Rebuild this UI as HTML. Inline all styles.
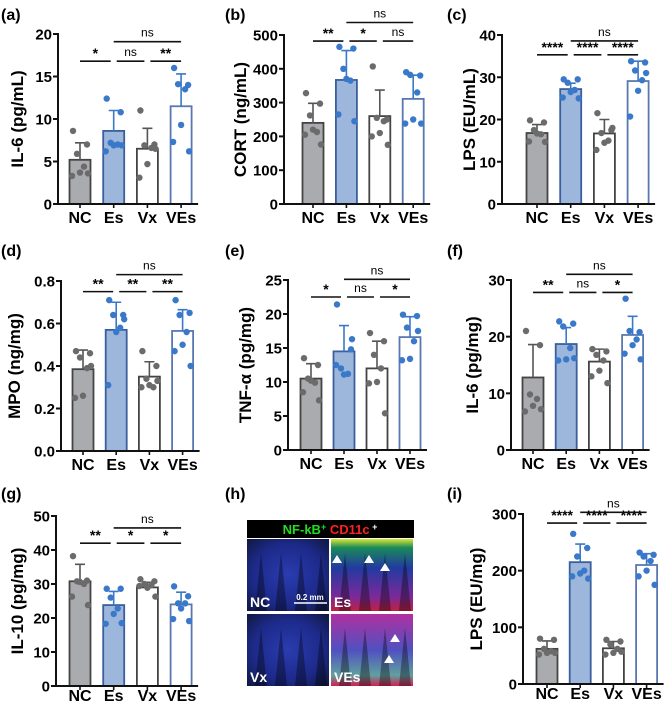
<!DOCTYPE html>
<html><head><meta charset="utf-8"><style>
body{margin:0;background:#fff;width:669px;height:701px;overflow:hidden}
svg{display:block;font-family:"Liberation Sans",Arial,sans-serif;font-weight:bold}
</style></head><body>
<svg id="fig" width="669" height="701" viewBox="0 0 669 701">
<defs>
<radialGradient id="gBlue" cx="50%" cy="50%" r="70%"><stop offset="0" stop-color="#2a3cb0"/><stop offset="0.6" stop-color="#1d2a8a"/><stop offset="1" stop-color="#101840"/></radialGradient>
<linearGradient id="gEs" x1="0" y1="0" x2="0" y2="1"><stop offset="0" stop-color="#d8e830"/><stop offset="0.12" stop-color="#1a8a5a"/><stop offset="0.4" stop-color="#223aa0"/><stop offset="0.8" stop-color="#7a2a9a"/><stop offset="1" stop-color="#c02040"/></linearGradient>
<linearGradient id="gVEs" x1="0" y1="0" x2="0" y2="1"><stop offset="0" stop-color="#b030a0"/><stop offset="0.5" stop-color="#5050c0"/><stop offset="0.85" stop-color="#60a0a0"/><stop offset="1" stop-color="#d02050"/></linearGradient>
</defs>
</svg>
<script>
// ---- data arrays ----
const groups = ["NC","Es","Vx","VEs"];
const aTicks=[0,5,10,15,20], aMeans=[5.2,8.6,6.5,11.5], aSD=[2.0,2.4,2.4,3.8];
const aPts=[[8.6,7.0,5.9,4.4,3.7,3.3,3.6],[12.4,10.8,7.2,7.0,6.9,6.2,6.9],[11.0,7.0,6.9,6.6,4.7,3.1,6.5],[16.0,14.0,14.1,13.5,9.3,7.3,6.2]];
const aSig=["*","ns","**","ns"];
const bTicks=[0,100,200,300,400,500], bMeans=[240,367,260,311], bSD=[58,87,77,70];
const bPts=[[328,297,262,213,220,205,176],[465,460,400,365,370,265,245],[407,250,255,245,210,200,175],[390,380,382,330,250,238,238]];
const bSig=["**","*","ns","ns"];
const cTicks=[0,10,20,30,40], cMeans=[16.8,27.2,16.7,29.1], cSD=[2.0,1.4,3.3,4.7];
const cPts=[[19.8,19.3,17.5,16.5,16.7,14.8,14.7],[29.5,29.5,28.7,27.0,26.5,25.2,25.0],[21.5,17.5,16.8,15.0,14.5,12.8,18.0],[33.8,33.5,31.6,29.3,26.8,20.7,31.0]];
const cSig=["****","****","****","ns"];
const dTicks=[0,0.2,0.4,0.6,0.8], dMeans=[0.385,0.57,0.35,0.565], dSD=[0.09,0.13,0.07,0.1];
const dPts=[[0.47,0.46,0.44,0.39,0.26,0.25,0.40],[0.71,0.64,0.64,0.58,0.56,0.31,0.62],[0.47,0.40,0.34,0.30,0.31,0.30,0.33],[0.71,0.65,0.64,0.56,0.50,0.47,0.40]];
const dSig=["**","**","**","ns"];
const eTicks=[0,5,10,15,20,25], eMeans=[10.5,14.5,12.0,16.6], eSD=[2.2,3.8,4.0,3.0];
const ePts=[[13.5,12.5,10.5,9.9,10.2,8.5,7.3],[21.4,14.8,12.0,11.2,11.1,12.5,16.3],[17.2,16.0,14.0,12.0,10.0,9.8,5.4],[19.9,19.7,18.0,16.0,13.4,13.2,17.5]];
const eSig=["*","ns","*","ns"];
const fTicks=[0,10,20,30], fMeans=[12.8,18.7,15.6,20.3], fSD=[5.8,2.9,2.2,3.3];
const fPts=[[21.0,18.5,9.8,9.0,7.8,6.8,7.2],[22.7,22.3,21.8,18.0,16.0,15.8,16.2],[17.8,17.4,16.8,15.8,14.0,13.0,11.8],[26.7,20.8,21.0,19.5,18.5,17.0,16.0]];
const fSig=["**","ns","*","ns"];
const gTicks=[0,10,20,30,40,50], gMeans=[30.8,23.8,29.0,24.0], gSD=[5.0,4.0,1.5,3.6];
const gPts=[[38.2,31.0,30.8,30.0,30.6,26.3,23.8],[28.6,28.6,26.0,22.8,21.2,18.3,18.5],[31.4,30.8,30.0,29.7,28.9,29.4,26.3],[29.3,26.4,24.3,24.3,22.8,19.7,19.1]];
const gSig=["**","*","*","ns"];
const iTicks=[0,100,200,300], iMeans=[62,215,63,210], iSD=[14,32,12,20];
const iPts=[[80,78,62,58,55,52,55],[265,240,225,200,195,190,186],[78,75,70,62,55,52,57],[232,228,225,217,200,190,175]];
const iSig=["****","****","****","ns"];

const NS="http://www.w3.org/2000/svg";
const svg=document.getElementById('fig');
function mk(tag,attrs,parent){const e=document.createElementNS(NS,tag);for(const k in attrs)e.setAttribute(k,attrs[k]);(parent||svg).appendChild(e);return e;}
function txt(s,attrs,parent){const e=mk('text',attrs,parent);e.textContent=s;return e;}

const fills=["#aaabae","#9db6dc","#ffffff","#ffffff"];
const strokes=["#444444","#3b5f9c","#444444","#5a78b0"];
const dotC=["#6b6b6b","#3a78c9","#6b6b6b","#3a78c9"];
const errC=["#555555","#3a78c9","#555555","#3a78c9"];
const jit=[-7,7,-3,4,0,-8,8];

function panel(name,letter,lx,ly,title,tx,ticks,means,sd,pts,sig,ax,y0,yT,c0,pitch,shortV,topV,dec,xlOff){
  const g=mk('g',{});
  
  
  const max=ticks[ticks.length-1];
  const Y=v=>y0-(v/max)*(y0-yT);
  const X=i=>c0+i*pitch;
  const pl=txt(letter,{x:lx,y:ly,'font-size':16},g);
  
  
  const yt=txt(title,{x:tx,y:(y0+yT)/2,'font-size':17,'text-anchor':'middle',transform:`rotate(-90 ${tx} ${(y0+yT)/2})`},g);
  
  
  means.forEach((m,i)=>{
    const b=mk('rect',{x:X(i)-10.5,y:Y(m),width:21,height:y0-Y(m),fill:fills[i],stroke:strokes[i],'stroke-width':1.8},g);
    
    
  });
  means.forEach((m,i)=>{
    const e=mk('path',{d:`M${X(i)} ${Y(m)}V${Y(m+sd[i])}M${X(i)-5} ${Y(m+sd[i])}H${X(i)+5}`,stroke:errC[i],'stroke-width':1.6,fill:'none'},g);
    
    
  });
  pts.forEach((arr,i)=>arr.forEach((v,k)=>{
    const p=mk('circle',{cx:X(i)+jit[k],cy:Y(v),r:3.2,fill:dotC[i]},g);
    
    
  }));
  const axl=mk('path',{d:`M${ax} ${yT-1}V${y0}H${X(3)+17}`,stroke:'#111','stroke-width':2,fill:'none'},g);
  
  
  ticks.forEach(t=>{
    mk('line',{x1:ax-5,x2:ax,y1:Y(t),y2:Y(t),stroke:'#111','stroke-width':2},g);
    const tl=txt(t.toFixed(dec),{x:ax-6,y:Y(t)+5.5,'font-size':15,'text-anchor':'end'},g);
    
    
  });
  groups.forEach((s,i)=>{
    mk('line',{x1:X(i),x2:X(i),y1:y0,y2:y0+4,stroke:'#111','stroke-width':1.6},g);
    const xl=txt(s,{x:X(i),y:y0+xlOff,'font-size':16,'text-anchor':'middle'},g);
    
    
  });
  const sy=Y(shortV), ty=Y(topV);
  const segs=[[X(0),X(1)-3],[X(1)+3,X(2)-3],[X(2)+3,X(3)]];
  segs.forEach((s,k)=>{
    mk('line',{x1:s[0],x2:s[1],y1:sy,y2:sy,stroke:'#111','stroke-width':1.6},g);
    const isNs=sig[k]==='ns';
    const st=txt(sig[k],{x:(s[0]+s[1])/2,y:isNs?sy-5:sy-3,'font-size':isNs?12:14,'font-weight':isNs?'normal':'bold','text-anchor':'middle'},g);
    
    
  });
  mk('line',{x1:X(1),x2:X(3),y1:ty,y2:ty,stroke:'#111','stroke-width':1.6},g);
  const tt=txt(sig[3],{x:(X(1)+X(3))/2,y:ty-5,'font-size':12,'font-weight':'normal','text-anchor':'middle'},g);
  
  
}

panel('panel-a-serum-il6','(a)',1,20,'IL-6 (pg/mL)',23,aTicks,aMeans,aSD,aPts,aSig,58,204,34,80,33.7,16.8,19.1,0,19);
panel('panel-b-cort','(b)',225,20,'CORT (ng/mL)',246,bTicks,bMeans,bSD,bPts,bSig,284,204,35,313,33.4,482,537,0,19);
panel('panel-c-serum-lps','(c)',447,20,'LPS (EU/mL)',475,cTicks,cMeans,cSD,cPts,cSig,502,204,35,537,33.7,35.3,38.6,0,19);
panel('panel-d-mpo','(d)',1,256,'MPO (ng/mg)',20,dTicks,dMeans,dSD,dPts,dSig,61,451,281,83,33.2,0.75,0.83,1,19);
panel('panel-e-tnf','(e)',225,256,'TNF-α (pg/mg)',251,eTicks,eMeans,eSD,ePts,eSig,288,450,280,311,33,22.5,25.1,0,19);
panel('panel-f-colon-il6','(f)',447,256,'IL-6 (pg/mg)',478,fTicks,fMeans,fSD,fPts,fSig,511,450,280,533,33.2,27.8,31,0,19);
panel('panel-g-il10','(g)',1,499,'IL-10 (pg/mg)',23,gTicks,gMeans,gSD,gPts,gSig,56,686,516,80,33.7,42,46.5,0,15);
panel('panel-i-colon-lps','(i)',447,499,'LPS (EU/mg)',482,iTicks,iMeans,iSD,iPts,iSig,523,684,514,547,33.2,284,303,0,15);

const h=mk('g',{});


txt('(h)',{x:225,y:499,'font-size':16},h);
mk('rect',{x:247,y:520,width:167,height:18,fill:'#000'},h);
const hd=mk('text',{x:330,y:534,'font-size':13,'text-anchor':'middle'},h);


hd.innerHTML='<tspan fill="#22dd22">NF-kB<tspan font-size="9" dy="-4">+</tspan></tspan><tspan dy="4" fill="#ff2020"> CD11c</tspan><tspan fill="#fff" font-size="9" dy="-4"> +</tspan>';
const imgs=[["NC",247,539,"url(#gBlue)"],["Es",331,539,"url(#gEs)"],["Vx",247,614,"url(#gBlue)"],["VEs",331,614,"url(#gVEs)"]];
imgs.forEach(im=>{
  const r=mk('rect',{x:im[1],y:im[2],width:82,height:72,fill:im[3]},h);
  
  
  for(let k=0;k<4;k++){mk('path',{d:`M${im[1]+8+k*20} ${im[2]+72}L${im[1]+14+k*20} ${im[2]+14}L${im[1]+20+k*20} ${im[2]+72}Z`,fill:'#000','fill-opacity':0.35},h);}
  txt(im[0],{x:im[1]+3,y:im[2]+68,'font-size':14,fill:'#fff'},h);
});
mk('line',{x1:294,x2:327,y1:603,y2:603,stroke:'#fff','stroke-width':1.5},h);
txt('0.2 mm',{x:310,y:600,'font-size':8,fill:'#fff','text-anchor':'middle'},h);
[[337,555],[369,555],[385,563],[395,634],[389,655]].forEach(p=>mk('path',{d:`M${p[0]} ${p[1]}l-5 8h10z`,fill:'#fff'},h));
</script>
</body></html>
